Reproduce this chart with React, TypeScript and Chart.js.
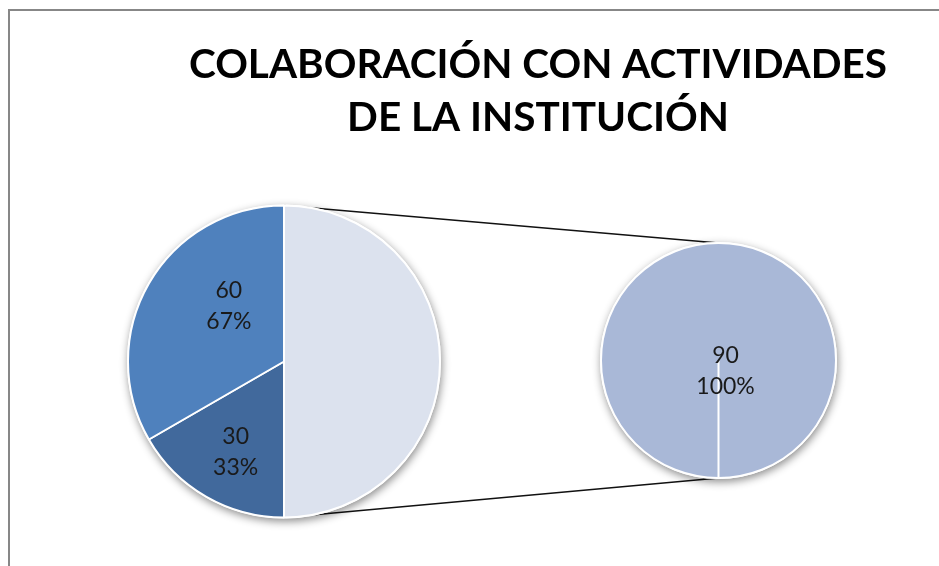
import { useEffect, useRef } from "react";
import { Chart, registerables } from "chart.js";

Chart.register(...registerables);

// ---- data ----
const TITLE_LINES = ["COLABORACIÓN CON ACTIVIDADES", "DE LA INSTITUCIÓN"];
const primaryCategories = ["Categoría B", "Categoría A"];
const primaryValues = [30, 60];
const secondaryCategories = ["Categoría C"];
const secondaryValues = [90];
const otherLabel = "Otros";

// ---- styles ----
const COLOR_OTHER = "#DCE2EE";
const PRIMARY_COLORS = ["#41699C", "#4F81BD"];
const SECONDARY_COLORS = ["#A9B8D7"];
const FONT = "Lato, 'Open Sans', sans-serif";

const sum = (a: number[]) => a.reduce((s, v) => s + v, 0);
const pct = (v: number, total: number) => `${Math.round((v / total) * 100)}%`;

const shadowPlugin = {
  id: "pieShadow",
  beforeDatasetsDraw(chart: any) {
    const arc = chart.getDatasetMeta(0).data[0];
    if (!arc) return;
    const { x, y, outerRadius } = arc.getProps(["x", "y", "outerRadius"], true);
    const ctx = chart.ctx;
    ctx.save();
    ctx.shadowColor = "rgba(0,0,0,0.45)";
    ctx.shadowBlur = 8;
    ctx.shadowOffsetX = 1;
    ctx.shadowOffsetY = 3;
    ctx.fillStyle = "#ffffff";
    ctx.beginPath();
    ctx.arc(x, y, outerRadius + 1, 0, Math.PI * 2);
    ctx.fill();
    ctx.restore();
  },
};

const labelPlugin = {
  id: "sliceLabels",
  afterDatasetsDraw(chart: any, _args: any, opts: any) {
    const meta = chart.getDatasetMeta(0);
    const ctx = chart.ctx;
    ctx.save();
    ctx.font = `${opts.size}px ${FONT}`;
    ctx.fillStyle = opts.color;
    ctx.textAlign = "center";
    ctx.textBaseline = "middle";
    meta.data.forEach((arc: any, i: number) => {
      const lines = opts.texts[i];
      if (!lines) return;
      const p = opts.placement[i];
      const { x, y, startAngle, endAngle, outerRadius } = arc.getProps(
        ["x", "y", "startAngle", "endAngle", "outerRadius"],
        true
      );
      const a = (startAngle + endAngle) / 2 + (p.shift * Math.PI) / 180;
      const d = outerRadius * p.frac;
      const cx = x + Math.cos(a) * d;
      const cy = y + Math.sin(a) * d;
      lines.forEach((t: string, k: number) =>
        ctx.fillText(t, cx, cy + (k - (lines.length - 1) / 2) * opts.lineGap)
      );
    });
    ctx.restore();
  },
};

export default function App() {
  const baseRef = useRef<HTMLCanvasElement>(null);
  const leftRef = useRef<HTMLCanvasElement>(null);
  const rightRef = useRef<HTMLCanvasElement>(null);

  useEffect(() => {
    document.body.style.margin = "0";
    const primaryTotal = sum(primaryValues);
    const secondaryTotal = sum(secondaryValues);

    const left = new Chart(leftRef.current!, {
      type: "pie",
      data: {
        labels: [otherLabel, ...primaryCategories],
        datasets: [
          {
            data: [secondaryTotal, ...primaryValues],
            backgroundColor: [COLOR_OTHER, ...PRIMARY_COLORS],
            borderColor: "#ffffff",
            borderWidth: 2,
            radius: 156,
          } as any,
        ],
      },
      options: {
        animation: false,
        responsive: false,
        events: [],
        layout: { padding: { left: 0, right: 371, top: 157, bottom: 0 } },
        plugins: {
          legend: { display: false },
          tooltip: { enabled: false },
          sliceLabels: {
            size: 23,
            color: "#1a1a1a",
            lineGap: 31,
            texts: [
              null,
              ...primaryValues.map((v) => [String(v), pct(v, primaryTotal)]),
            ],
            placement: [null, { shift: -2, frac: 0.66 }, { shift: 15, frac: 0.5 }],
          },
        } as any,
      },
      plugins: [shadowPlugin, labelPlugin],
    });

    const right = new Chart(rightRef.current!, {
      type: "pie",
      data: {
        labels: secondaryCategories,
        datasets: [
          {
            data: secondaryValues,
            backgroundColor: SECONDARY_COLORS,
            borderColor: "#ffffff",
            borderWidth: 2,
            radius: 117.5,
          } as any,
        ],
      },
      options: {
        animation: false,
        responsive: false,
        events: [],
        rotation: 180,
        layout: { padding: { left: 498, right: 0, top: 155, bottom: 0 } },
        plugins: {
          legend: { display: false },
          tooltip: { enabled: false },
          sliceLabels: {
            size: 23,
            color: "#1a1a1a",
            lineGap: 31,
            texts: secondaryValues.map((v) => [String(v), pct(v, secondaryTotal)]),
            placement: [{ shift: 146, frac: 0.107 }],
          },
        } as any,
      },
      plugins: [shadowPlugin, labelPlugin],
    });

    const connectorPlugin = {
      id: "connectors",
      beforeDraw(chart: any) {
        const ctx = chart.ctx;
        ctx.save();
        // frame
        ctx.fillStyle = "#878787";
        ctx.fillRect(8, 9, chart.width - 8, 2);
        ctx.fillRect(8, 9, 2, chart.height - 9);
        const la = left.getDatasetMeta(0).data[0] as any;
        const ra = right.getDatasetMeta(0).data[0] as any;
        if (la && ra) {
          const L = la.getProps(["x", "y", "outerRadius"], true);
          const R = ra.getProps(["x", "y", "outerRadius"], true);
          ctx.strokeStyle = "#111111";
          ctx.lineWidth = 1.5;
          ctx.beginPath();
          ctx.moveTo(L.x, L.y - L.outerRadius);
          ctx.lineTo(R.x, R.y - R.outerRadius);
          ctx.moveTo(L.x, L.y + L.outerRadius);
          ctx.lineTo(R.x, R.y + R.outerRadius);
          ctx.stroke();
        }
        ctx.restore();
      },
    };

    const base = new Chart(baseRef.current!, {
      type: "pie",
      data: { labels: [], datasets: [] },
      options: {
        animation: false,
        responsive: false,
        events: [],
        layout: { padding: { left: 137, right: 0, top: 0, bottom: 0 } },
        plugins: {
          legend: { display: false },
          tooltip: { enabled: false },
          title: {
            display: true,
            text: TITLE_LINES,
            color: "#000000",
            font: { family: FONT, size: 40.5, weight: "bold", lineHeight: 1.3 },
            padding: { top: 39, bottom: 0 },
          },
        },
      },
      plugins: [connectorPlugin],
    });

    return () => {
      base.destroy();
      right.destroy();
      left.destroy();
    };
  }, []);

  const cs: React.CSSProperties = {
    position: "absolute",
    left: 0,
    top: 0,
    width: 939,
    height: 566,
  };

  return (
    <div
      style={{
        position: "relative",
        width: 939,
        height: 566,
        overflow: "hidden",
        background: "#ffffff",
      }}
    >
      <canvas ref={baseRef} width={939} height={566} style={cs} />
      <canvas ref={leftRef} width={939} height={566} style={cs} />
      <canvas ref={rightRef} width={939} height={566} style={cs} />
    </div>
  );
}
